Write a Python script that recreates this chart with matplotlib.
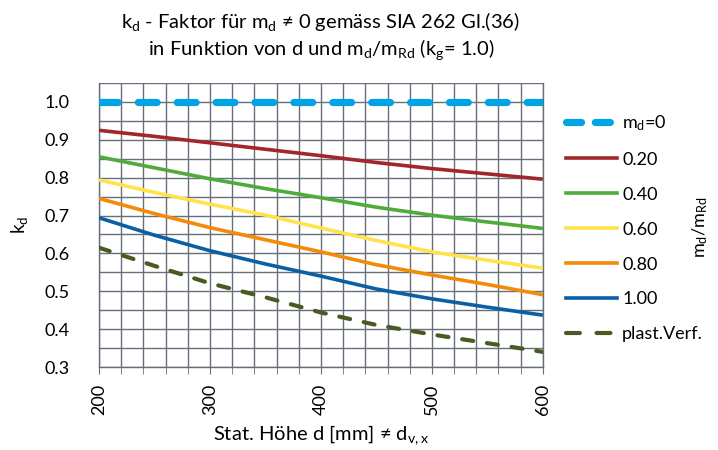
import numpy as np
import matplotlib
matplotlib.use("Agg")
import matplotlib.pyplot as plt
from matplotlib.lines import Line2D
from matplotlib.ticker import MultipleLocator

plt.rcParams['font.family'] = ['Lato', 'DejaVu Sans']
plt.rcParams['mathtext.fontset'] = 'custom'
plt.rcParams['mathtext.rm'] = 'Lato'
plt.rcParams['mathtext.it'] = 'Lato'
plt.rcParams['lines.scale_dashes'] = False

# Daten
d = [200, 250, 300, 350, 400, 450, 500, 550, 600]
kd_00 = [1.0, 1.0, 1.0, 1.0, 1.0, 1.0, 1.0, 1.0, 1.0]
kd_20 = [0.925, 0.909, 0.892, 0.875, 0.858, 0.840, 0.824, 0.810, 0.796]
kd_40 = [0.855, 0.826, 0.797, 0.771, 0.747, 0.722, 0.701, 0.683, 0.666]
kd_60 = [0.794, 0.761, 0.730, 0.701, 0.667, 0.634, 0.604, 0.582, 0.561]
kd_80 = [0.745, 0.705, 0.668, 0.636, 0.604, 0.570, 0.543, 0.518, 0.491]
kd_100 = [0.694, 0.648, 0.607, 0.572, 0.540, 0.506, 0.480, 0.458, 0.437]
kd_plast = [0.615, 0.567, 0.521, 0.484, 0.444, 0.411, 0.386, 0.363, 0.340]

labels = [r'm$_\mathrm{d}$=0', '0.20', '0.40', '0.60', '0.80', '1.00', 'plast.Verf.']
colors = ['#00a3e4', '#a3262a', '#4fab3a', '#ffe34d', '#f58a07', '#0b5fa5', '#4b5a23']

fig = plt.figure(figsize=(7.18, 4.5), dpi=100)
ax = fig.add_axes([0.138, 0.1844, 0.618, 0.6312])

gridcol = '#66707b'

ax.plot(d, kd_00, color=colors[0], lw=5.2, dashes=(13.5, 14.5),
        dash_capstyle='round', zorder=3)
for y, c in zip([kd_20, kd_40, kd_60, kd_80, kd_100], colors[1:6]):
    ax.plot(d, y, color=c, lw=2.6, solid_capstyle='butt', zorder=3)
ax.plot(d, kd_plast, color=colors[6], lw=3.0, dashes=(8, 10),
        dash_capstyle='round', zorder=3)

# Legenden-Symbole
handles = [Line2D([], [], color=colors[0], lw=5.2, dashes=(10.8, 10), dash_capstyle='round')]
handles += [Line2D([], [], color=c, lw=2.6) for c in colors[1:6]]
handles += [Line2D([], [], color=colors[6], lw=3.0, dashes=(10, 12), dash_capstyle='round')]

ax.set_xlim(200, 600)
ax.set_ylim(0.3, 1.05)
ax.xaxis.set_major_locator(MultipleLocator(100))
ax.xaxis.set_minor_locator(MultipleLocator(20))
ax.set_yticks(np.arange(0.3, 1.01, 0.1))
ax.yaxis.set_minor_locator(MultipleLocator(0.05))
ax.set_yticklabels([f'{v:.1f}' for v in np.arange(0.3, 1.01, 0.1)])
ax.grid(True, which='both', color=gridcol, lw=1.0)
ax.set_axisbelow(True)
for s in ax.spines.values():
    s.set_color(gridcol)
    s.set_linewidth(1.0)
ax.spines['top'].set_visible(False)

ax.tick_params(axis='x', which='both', length=5, color=gridcol, direction='out',
               labelsize=13, pad=7, labelrotation=90)
ax.tick_params(axis='y', which='both', length=0, labelsize=13, pad=21)

ax.set_xlabel(r'Stat. Höhe d [mm] ≠ d$_\mathrm{v,x}$', fontsize=14.5, labelpad=6)
ax.set_ylabel(r'k$_\mathrm{d}$', fontsize=13.5, labelpad=11)

fig.text(0.447, 0.953, r'k$_\mathrm{d}$ - Faktor für m$_\mathrm{d}$ ≠ 0 gemäss SIA 262 Gl.(36)',
         ha='center', va='center', fontsize=14.5)
fig.text(0.447, 0.889, r'in Funktion von d und m$_\mathrm{d}$/m$_\mathrm{Rd}$ (k$_\mathrm{g}$= 1.0)',
         ha='center', va='center', fontsize=14.5)

fig.legend(handles, labels, loc='upper left', bbox_to_anchor=(0.766, 0.785), frameon=False,
           fontsize=13, handlelength=2.8, labelspacing=1.05, handletextpad=0.3)
fig.text(0.975, 0.495, r'm$_\mathrm{d}$/m$_\mathrm{Rd}$', rotation=90,
         ha='center', va='center', fontsize=13)

fig.savefig('out.png', dpi=100)
